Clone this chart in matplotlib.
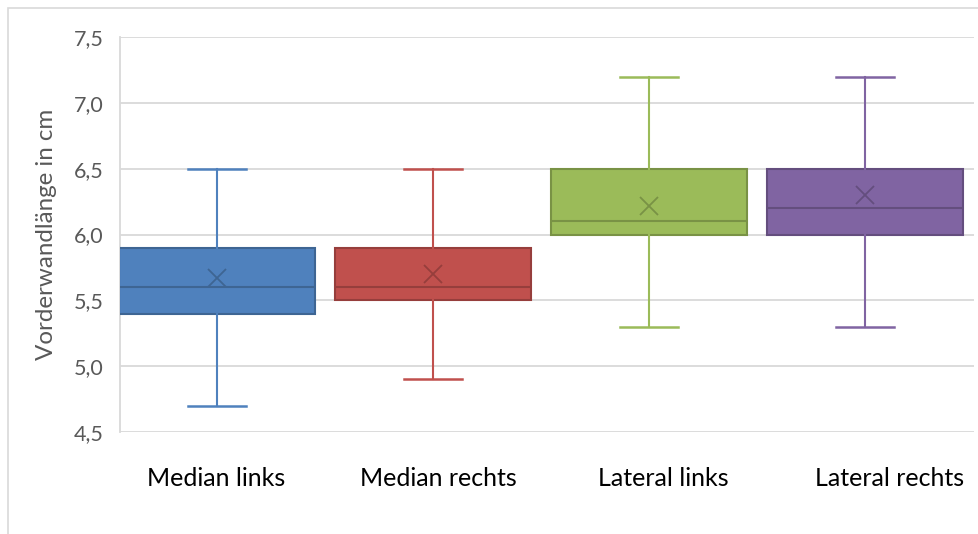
import matplotlib.pyplot as plt
from matplotlib.patches import Rectangle
from matplotlib.colors import to_rgb

categories = ["Median links", "Median rechts", "Lateral links", "Lateral rechts"]
whislo = [4.7, 4.9, 5.3, 5.3]
q1 = [5.4, 5.5, 6.0, 6.0]
med = [5.6, 5.6, 6.1, 6.2]
q3 = [5.9, 5.9, 6.5, 6.5]
whishi = [6.5, 6.5, 7.2, 7.2]
means = [5.67, 5.70, 6.22, 6.30]
colors = ["#4F81BD", "#C0504D", "#9BBB59", "#8064A2"]


def darker(c, f=0.78):
    r, g, b = to_rgb(c)
    return (r * f, g * f, b * f)


plt.rcParams['font.family'] = ['Lato', 'DejaVu Sans']

fig = plt.figure(figsize=(9.79, 5.34), dpi=100)
W, H = 979.0, 534.0
ax = fig.add_axes([120 / W, 1 - 432 / H, (974 - 120) / W, (432 - 37) / H])

# chart border
fig.patches.append(Rectangle((8 / W, -0.1), 1.2, 1 - 8 / H + 0.1, transform=fig.transFigure,
                             fill=False, edgecolor="#d9d9d9", linewidth=1.2))

positions = [1, 2, 3, 4]
for i in range(len(categories)):
    stats = [dict(whislo=whislo[i], q1=q1[i], med=med[i], q3=q3[i], whishi=whishi[i],
                  mean=means[i], fliers=[])]
    c = colors[i]
    d = darker(c)
    ax.bxp(stats, positions=[positions[i]], widths=0.907, patch_artist=True,
           showmeans=True, showfliers=False,
           boxprops=dict(facecolor=c, edgecolor=d, linewidth=1.5),
           medianprops=dict(color=d, linewidth=1.5),
           whiskerprops=dict(color=c, linewidth=1.5),
           capprops=dict(color=c, linewidth=1.8),
           capwidths=0.27,
           meanprops=dict(marker='x', markersize=13, markeredgecolor=d, markeredgewidth=1.3),
           zorder=3)

ax.set_xlim(0.551, 4.505)
ax.set_ylim(4.5, 7.5)
ax.set_yticks([4.5, 5.0, 5.5, 6.0, 6.5, 7.0, 7.5])
ax.set_yticklabels(["4,5", "5,0", "5,5", "6,0", "6,5", "7,0", "7,5"])
ax.yaxis.grid(True, color="#d9d9d9", linewidth=1.3, zorder=0)
ax.set_axisbelow(True)
for s in ["top", "right", "bottom"]:
    ax.spines[s].set_visible(False)
ax.spines["left"].set_color("#d9d9d9")
ax.spines["left"].set_linewidth(1.3)
ax.tick_params(axis="y", length=0, pad=12, labelsize=15.5, labelcolor="#595959")
ax.tick_params(axis="x", length=0, pad=25, labelsize=18, labelcolor="#000000")

# category labels
ax.set_xticks([0.995, 2.023, 3.065, 4.116])
ax.set_xticklabels(categories)

ax.set_ylabel("Vorderwandlänge in cm", fontsize=17.4, color="#595959", labelpad=12)

fig.savefig("out.png", dpi=100)
